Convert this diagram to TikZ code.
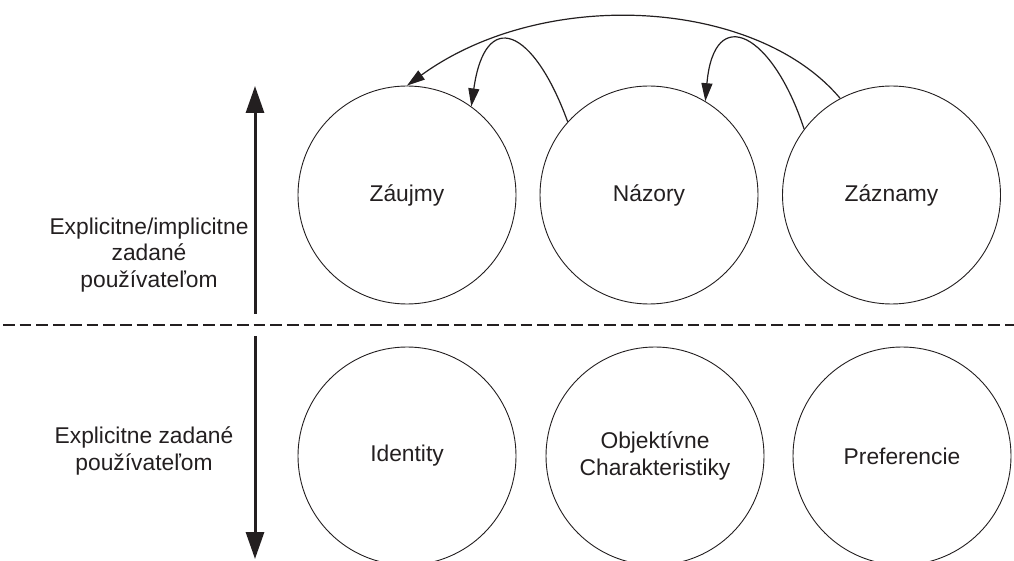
\documentclass[tikz,border=0pt]{standalone}
\usepackage{fontspec}
\setmainfont{Liberation Sans}
\usetikzlibrary{arrows.meta}
\definecolor{ink}{HTML}{231F20}
\begin{document}
\begin{tikzpicture}[x=1pt,y=1pt,
  every node/.style={font=\fontsize{22.8}{26.5}\selectfont, text=ink},
  bubble/.style={circle, draw=ink, line width=0.9pt, minimum size=218pt, inner sep=0pt, align=center},
  sidetext/.style={align=center, inner sep=0pt},
  axis/.style={draw=ink, line width=3pt, -{Triangle[length=27pt,width=18pt]}},
  flow/.style={draw=ink, line width=1.2pt, -{Triangle[length=18pt,width=11pt]}},
  divider/.style={draw=ink, line width=2.4pt, dash pattern=on 11.7pt off 5pt}]
\useasboundingbox (0,0) rectangle (1014,560);

% upper row: data given explicitly or implicitly
\node[bubble] (zaujmy)  at (407,365)   {Záujmy};
\node[bubble] (nazory)  at (649,365)   {Názory};
\node[bubble] (zaznamy) at (891.5,365) {Záznamy};

% lower row: data given explicitly
\node[bubble] (identity) at (407,104) {Identity};
\node[bubble] (objective) at (655,104) {Objektívne\\Charakteristiky};
\node[bubble] (prefs)    at (902,104) {Preferencie};

% side descriptions
\node[sidetext] (toptext) at (149,305) {Explicitne/implicitne\\zadané\\používateľom};
\node[sidetext] (bottext) at (144,109) {Explicitne zadané\\používateľom};

% divider between the two groups
\coordinate (divl) at (3,235);
\coordinate (divr) at (1014,235);
\draw[divider] (divl) -- (divr);

% vertical axis arrows
\coordinate (upfrom) at (255,246);
\coordinate (upto)   at (255,474);
\coordinate (dnfrom) at (255,224);
\coordinate (dnto)   at (255,1);
\draw[axis] (upfrom) -- (upto);
\draw[axis] (dnfrom) -- (dnto);

% dependencies between the upper bubbles
\draw[flow] (zaznamy.118) to[out=130,in=36,out distance=130pt,in distance=170pt] (zaujmy.90);
\draw[flow] (nazory.138) to[out=110,in=82,out distance=100pt,in distance=100pt] (zaujmy.54);
\draw[flow] (zaznamy.143) to[out=108,in=85,out distance=100pt,in distance=100pt] (nazory.59);
\end{tikzpicture}
\end{document}
